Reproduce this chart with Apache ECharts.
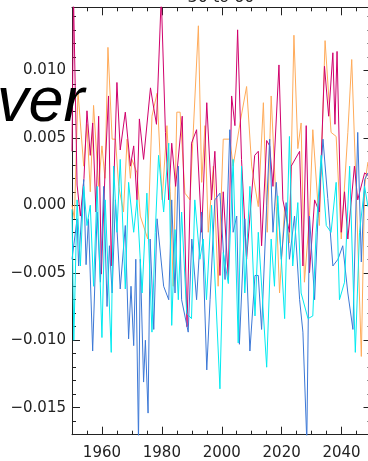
<!DOCTYPE html>
<html>
<head>
<meta charset="utf-8">
<style>
  html, body { margin: 0; padding: 0; background: #fff; }
  #chart { width: 368px; height: 461px; }
</style>
<script src="https://cdn.jsdelivr.net/npm/echarts@6/dist/echarts.min.js"></script>
</head>
<body>
<div id="chart"></div>
<script>
// Anomaly series, [year, value] pairs
const seriesMagenta = [
  [1950.0, 0.0040], [1950.5, 0.0155], [1951.7, 0.0015], [1952.8, -0.0008], [1954.0, 0.0020],
  [1955.0, 0.0070], [1956.1, 0.0037], [1956.9, 0.0061], [1958.0, -0.0005], [1958.9, 0.0066],
  [1959.8, -0.0051], [1961.1, 0.0029], [1962.2, 0.0081], [1963.1, -0.0045], [1965.0, 0.0091],
  [1966.1, 0.0041], [1967.8, 0.0069], [1969.5, 0.0029], [1970.6, 0.0044], [1971.7, 0.0004],
  [1972.5, 0.0064], [1973.9, 0.0034], [1976.2, 0.0087], [1977.3, 0.0072], [1978.2, 0.0060],
  [1979.8, 0.0155], [1981.2, 0.0054], [1982.3, 0.0004], [1983.3, 0.0046], [1984.6, 0.0014],
  [1986.8, 0.0066], [1988.4, -0.0090], [1989.9, 0.0046], [1991.6, 0.0056], [1993.3, -0.0020],
  [1995.0, 0.0076], [1996.6, 0.0004], [1997.7, 0.0040], [1999.4, -0.0052], [2000.5, 0.0010],
  [2002.2, -0.0055], [2003.3, 0.0081], [2004.4, 0.0059], [2005.3, 0.0130], [2006.6, 0.0034],
  [2008.3, -0.0040], [2011.0, 0.0037], [2012.2, 0.0040], [2013.3, -0.0030], [2015.0, 0.0048],
  [2016.0, 0.0044], [2017.1, 0.0014], [2019.1, 0.0104], [2020.4, 0.0004], [2022.6, -0.0020],
  [2023.2, 0.0029], [2026.0, 0.0040], [2027.1, -0.0045], [2028.2, 0.0059], [2029.3, -0.0050],
  [2031.0, 0.0004], [2032.6, -0.0005], [2034.3, 0.0103], [2035.7, 0.0066], [2037.1, 0.0113],
  [2037.8, 0.0060], [2038.5, 0.0114], [2039.9, -0.0020], [2041.0, 0.0010], [2042.1, -0.0025],
  [2044.3, 0.0029], [2045.4, 0.0004], [2047.7, 0.0024], [2048.9, 0.0022]
];

const seriesOrange = [
  [1950.0, 0.0000], [1950.8, -0.0010], [1952.0, 0.0084], [1953.9, 0.0029], [1955.0, 0.0060],
  [1956.1, 0.0010], [1957.2, 0.0074], [1958.9, 0.0014], [1960.0, 0.0044], [1961.0, 0.0020],
  [1962.0, 0.0117], [1963.4, 0.0049], [1964.5, 0.0049], [1965.6, 0.0014], [1967.2, -0.0005],
  [1968.4, 0.0049], [1969.5, 0.0020], [1970.0, 0.0034], [1971.7, 0.0024], [1972.8, -0.0008],
  [1975.3, -0.0025], [1976.7, 0.0066], [1978.4, 0.0083], [1980.1, 0.0004], [1981.7, 0.0059],
  [1982.8, 0.0010], [1983.8, -0.0060], [1985.0, 0.0069], [1986.1, 0.0069], [1987.7, 0.0009],
  [1989.4, 0.0004], [1991.0, 0.0078], [1992.2, 0.0133], [1993.3, 0.0017], [1994.4, 0.0059],
  [1995.5, -0.0020], [1997.2, 0.0029], [1998.8, -0.0060], [2000.5, 0.0049], [2002.7, 0.0049],
  [2003.8, 0.0029], [2006.1, 0.0061], [2008.3, 0.0088], [2010.0, 0.0029], [2012.2, -0.0001],
  [2013.9, 0.0076], [2015.2, -0.0020], [2016.5, 0.0081], [2018.2, -0.0001], [2019.3, -0.0065],
  [2021.0, -0.0001], [2022.6, -0.0028], [2024.1, 0.0126], [2025.4, 0.0042], [2026.5, 0.0061],
  [2027.6, -0.0057], [2029.3, -0.0008], [2030.4, 0.0056], [2032.6, -0.0015], [2034.5, 0.0122],
  [2036.5, 0.0054], [2038.2, 0.0051], [2039.9, -0.0025], [2042.1, 0.0054], [2043.4, 0.0108],
  [2044.9, 0.0010], [2046.6, -0.0112], [2047.7, 0.0014], [2048.8, 0.0032]
];

const seriesCyan = [
  [1950.0, -0.0003], [1950.6, -0.0100], [1951.7, 0.0004], [1952.8, -0.0045], [1953.9, 0.0014],
  [1955.0, -0.0015], [1956.1, 0.0000], [1957.2, -0.0060], [1958.4, 0.0014], [1960.0, -0.0098],
  [1961.1, 0.0004], [1963.1, -0.0109], [1963.9, 0.0029], [1965.0, -0.0020], [1966.1, 0.0034],
  [1967.8, -0.0062], [1968.9, 0.0017], [1970.6, -0.0020], [1971.7, 0.0004], [1973.4, -0.0065],
  [1975.0, 0.0009], [1976.7, -0.0094], [1977.8, -0.0020], [1978.9, 0.0037], [1980.6, -0.0005],
  [1982.3, 0.0046], [1983.3, -0.0089], [1984.4, -0.0018], [1985.5, -0.0070], [1986.6, -0.0005],
  [1988.3, -0.0080], [1989.9, -0.0084], [1991.0, 0.0004], [1992.7, -0.0040], [1993.8, -0.0025],
  [1994.9, -0.0070], [1996.6, 0.0000], [1999.4, -0.0136], [2000.5, -0.0035], [2002.2, -0.0058],
  [2003.8, 0.0034], [2005.5, -0.0102], [2006.6, 0.0029], [2007.7, -0.0065], [2009.4, 0.0014],
  [2011.1, -0.0082], [2012.2, -0.0020], [2015.0, -0.0120], [2016.5, -0.0025], [2017.6, -0.0060],
  [2018.7, 0.0007], [2021.0, -0.0084], [2022.6, 0.0051], [2023.7, -0.0045], [2025.4, 0.0002],
  [2026.5, -0.0065], [2028.8, -0.0084], [2030.4, -0.0082], [2031.5, -0.0020], [2033.2, 0.0037],
  [2034.9, -0.0015], [2036.5, -0.0020], [2038.2, 0.0017], [2039.3, -0.0070], [2041.0, -0.0057],
  [2042.7, 0.0029], [2044.6, -0.0109], [2046.0, -0.0020], [2047.7, 0.0014], [2048.8, -0.0001]
];

const seriesBlue = [
  [1950.0, -0.0040], [1951.7, -0.0010], [1952.2, -0.0045], [1953.9, 0.0019], [1954.7, -0.0044],
  [1955.5, -0.0010], [1956.9, -0.0108], [1958.4, -0.0005], [1959.5, -0.0057], [1960.6, 0.0014],
  [1961.7, -0.0075], [1962.5, -0.0030], [1963.4, -0.0065], [1964.5, 0.0004], [1966.1, -0.0062],
  [1967.8, -0.0015], [1968.9, -0.0099], [1969.7, -0.0060], [1970.6, -0.0104], [1971.3, -0.0040],
  [1972.2, -0.0175], [1972.8, -0.0040], [1973.9, -0.0131], [1974.5, -0.0100], [1975.4, -0.0154],
  [1976.1, -0.0025], [1977.3, -0.0092], [1978.4, -0.0010], [1980.6, -0.0060], [1982.3, -0.0070],
  [1983.3, 0.0004], [1984.4, -0.0065], [1985.5, 0.0029], [1986.6, -0.0070], [1988.8, -0.0094],
  [1990.0, -0.0025], [1991.6, -0.0070], [1993.3, -0.0005], [1995.0, -0.0122], [1996.1, -0.0070],
  [1997.7, 0.0004], [1999.4, 0.0009], [2001.1, -0.0055], [2002.7, 0.0056], [2003.8, -0.0020],
  [2005.0, -0.0008], [2005.9, -0.0103], [2007.7, -0.0010], [2009.4, -0.0108], [2011.1, -0.0052],
  [2012.2, -0.0052], [2013.3, -0.0092], [2015.0, 0.0000], [2016.0, 0.0049], [2017.1, -0.0020],
  [2018.2, 0.0017], [2019.9, -0.0040], [2021.5, 0.0002], [2022.6, -0.0040], [2024.3, -0.0008],
  [2026.0, -0.0070], [2027.1, -0.0094], [2028.4, -0.0175], [2029.3, -0.0008], [2031.0, -0.0070],
  [2032.1, -0.0010], [2033.8, 0.0049], [2035.4, 0.0005], [2037.1, -0.0045], [2038.8, -0.0040],
  [2040.4, -0.0030], [2042.1, -0.0065], [2043.8, -0.0092], [2045.4, 0.0054], [2046.6, -0.0042],
  [2047.7, 0.0019], [2048.8, 0.0024]
];

// Tick positions
const xLabelYears = [1960, 1980, 2000, 2020, 2040];
const xMinorYears = [1955, 1960, 1965, 1970, 1975, 1980, 1985, 1990, 1995, 2000,
                     2005, 2010, 2015, 2020, 2025, 2030, 2035, 2040, 2045];
const yLabelValues = [-0.015, -0.010, -0.005, 0.000, 0.005, 0.010];
const yMinorValues = [];
for (let k = -16; k <= 14; k++) yMinorValues.push(k / 1000);

const titleText = '30 to 60';
const overlayWord = 'ver';

const X_MIN = 1950, X_MAX = 2050;
const Y_MIN = -0.0170, Y_MAX = 0.01467;

const axisColor = '#222';
const labelFont = { fontFamily: 'DejaVu Sans', fontSize: 15, color: '#222' };

function fmtY(v) {
  const s = Math.abs(v) < 1e-9 ? '0.000' : v.toFixed(3);
  return s.replace('-', '\u2212');
}

function xAxisDef(position, major) {
  return {
    type: 'value', position, min: X_MIN, max: X_MAX, gridIndex: 0,
    axisLine: { show: major, onZero: false, lineStyle: { color: axisColor, width: 1 } },
    axisTick: {
      show: true, inside: true, length: major ? 8 : 4,
      customValues: major ? xLabelYears : xMinorYears,
      lineStyle: { color: axisColor, width: 1 }
    },
    axisLabel: {
      show: major && position === 'bottom', customValues: xLabelYears,
      margin: 11, formatter: v => String(v), ...labelFont
    },
    splitLine: { show: false }
  };
}

function yAxisDef(position, major) {
  return {
    type: 'value', position, min: Y_MIN, max: Y_MAX, gridIndex: 0,
    axisLine: { show: major, onZero: false, lineStyle: { color: axisColor, width: 1 } },
    axisTick: {
      show: true, inside: true, length: major ? 8 : 4,
      customValues: major ? yLabelValues : yMinorValues,
      lineStyle: { color: axisColor, width: 1 }
    },
    axisLabel: {
      show: major && position === 'left', customValues: yLabelValues,
      margin: 6, formatter: fmtY, ...labelFont
    },
    splitLine: { show: false }
  };
}

function lineSeries(name, data, color) {
  return {
    name, type: 'line', data, xAxisIndex: 0, yAxisIndex: 0,
    showSymbol: false, symbol: 'none', smooth: false, clip: true,
    lineStyle: { color, width: 1 }, itemStyle: { color },
    animation: false, silent: true
  };
}

const chart = echarts.init(document.getElementById('chart'), null, { renderer: 'canvas' });
chart.setOption({
  animation: false,
  backgroundColor: '#fff',
  grid: { left: 72, top: 7.3, width: 299.5, height: 427.4, outerBoundsMode: 'none', containLabel: false },
  xAxis: [xAxisDef('bottom', true), xAxisDef('bottom', false), xAxisDef('top', true), xAxisDef('top', false)],
  yAxis: [yAxisDef('left', true), yAxisDef('left', false), yAxisDef('right', true), yAxisDef('right', false)],
  series: [
    lineSeries('orange', seriesOrange, '#ffab5a'),
    lineSeries('magenta', seriesMagenta, '#d0006c'),
    lineSeries('blue', seriesBlue, '#3c78d6'),
    lineSeries('cyan', seriesCyan, '#00eaf0')
  ],
  graphic: [
    {
      type: 'text', x: 221, y: 6, z: 100,
      style: {
        text: titleText, fontFamily: 'DejaVu Sans', fontSize: 16, fill: '#222',
        align: 'center', verticalAlign: 'bottom'
      }
    },
    {
      type: 'text', x: -3, y: 135, z: 100,
      style: {
        text: overlayWord, fontFamily: 'Liberation Sans', fontStyle: 'italic',
        fontSize: 63, fill: '#000', verticalAlign: 'bottom'
      }
    }
  ]
});
</script>
</body>
</html>
